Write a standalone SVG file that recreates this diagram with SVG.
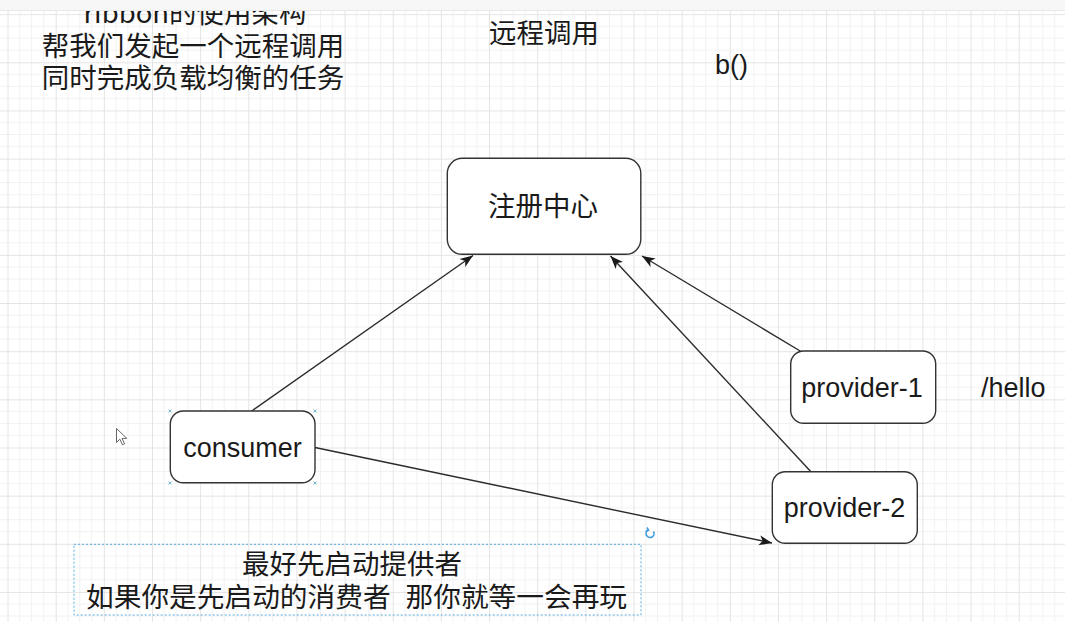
<svg xmlns="http://www.w3.org/2000/svg" width="1065" height="622" viewBox="0 0 1065 622">
  <style>
    .node { fill: #ffffff; stroke: #333333; stroke-width: 1.4; }
    .lbl { font-family: "Liberation Sans", Arial, sans-serif; font-size: 27px; fill: #1a1a1a; }
    .cjk { font-family: "Noto Sans CJK SC", "Microsoft YaHei", sans-serif; font-size: 27.5px; fill: #1a1a1a; }
    .edge { fill: none; stroke: #2b2b2b; stroke-width: 1.4; }
    .minor { stroke: #f1f1f1; stroke-width: 1; }
    .major { stroke: #e4e4e4; stroke-width: 1; }
  </style>
  <defs>
    <pattern id="grid" patternUnits="userSpaceOnUse" x="7.55" y="14.15" width="48.15" height="48.15">
      <line class="minor" x1="12.04" y1="0" x2="12.04" y2="48.15"/>
      <line class="minor" x1="24.08" y1="0" x2="24.08" y2="48.15"/>
      <line class="minor" x1="36.11" y1="0" x2="36.11" y2="48.15"/>
      <line class="minor" x1="0" y1="12.04" x2="48.15" y2="12.04"/>
      <line class="minor" x1="0" y1="24.08" x2="48.15" y2="24.08"/>
      <line class="minor" x1="0" y1="36.11" x2="48.15" y2="36.11"/>
      <line class="major" x1="0.5" y1="0" x2="0.5" y2="48.15"/>
      <line class="major" x1="0" y1="0.5" x2="48.15" y2="0.5"/>
    </pattern>
    <marker id="arrow" markerUnits="userSpaceOnUse" markerWidth="14" markerHeight="12" viewBox="0 0 14 12" refX="13" refY="6" orient="auto">
      <path d="M0,1 L13,6 L0,11 L3.5,6 Z" fill="#1a1a1a"/>
    </marker>
  </defs>

  <rect x="0" y="0" width="1065" height="622" fill="#ffffff"/>
  <rect x="0" y="0" width="1065" height="622" fill="url(#grid)"/>

  <!-- free texts -->
  <g id="notes">
    <text class="cjk" x="195" y="23" text-anchor="middle">ribbon的使用架构</text>
    <text class="cjk" x="193" y="56" text-anchor="middle">帮我们发起一个远程调用</text>
    <text class="cjk" x="193" y="87.5" text-anchor="middle">同时完成负载均衡的任务</text>
    <text class="cjk" x="489" y="43">远程调用</text>
    <text class="lbl" x="715" y="74">b()</text>
    <text class="lbl" x="981" y="397">/hello</text>
  </g>

  <!-- top toolbar band -->
  <rect x="0" y="0" width="1065" height="10" fill="#f7f7f7"/>
  <line x1="0" y1="10.5" x2="1065" y2="10.5" stroke="#e8e8e8" stroke-width="1"/>

  <!-- connectors -->
  <g id="connectors">
    <line class="edge" x1="251.7" y1="411" x2="473" y2="255.5" marker-end="url(#arrow)"/>
    <line class="edge" x1="810.7" y1="471.5" x2="610.5" y2="256" marker-end="url(#arrow)"/>
    <line class="edge" x1="801" y1="351.5" x2="642" y2="256" marker-end="url(#arrow)"/>
    <line class="edge" x1="315" y1="447.5" x2="772" y2="543" marker-end="url(#arrow)"/>
  </g>

  <g id="registry">
    <rect class="node" x="447.3" y="158.3" width="193.5" height="96" rx="15"/>
    <text class="cjk" x="543" y="216" text-anchor="middle">注册中心</text>
  </g>

  <g id="consumer">
    <rect class="node" x="170.3" y="411" width="144.7" height="71.7" rx="13"/>
    <text class="lbl" x="242.5" y="457" text-anchor="middle">consumer</text>
    <g stroke="#7ab8d8" stroke-width="1">
      <path d="M168.5,409.5 l3,3 M171.5,409.5 l-3,3"/>
      <path d="M313.5,409.5 l3,3 M316.5,409.5 l-3,3"/>
      <path d="M168.5,481.5 l3,3 M171.5,481.5 l-3,3"/>
      <path d="M313.5,481.5 l3,3 M316.5,481.5 l-3,3"/>
    </g>
  </g>

  <g id="provider-1">
    <rect class="node" x="790.7" y="351" width="145" height="72.3" rx="13"/>
    <text class="lbl" x="862" y="396.7" text-anchor="middle">provider-1</text>
  </g>

  <g id="provider-2">
    <rect class="node" x="772.3" y="471.7" width="145" height="71.6" rx="13"/>
    <text class="lbl" x="844.5" y="516.7" text-anchor="middle">provider-2</text>
  </g>

  <g id="note">
    <rect x="74" y="544.3" width="567" height="70.7" fill="none" stroke="#5aaee0" stroke-width="1" stroke-dasharray="2,2"/>
    <text class="cjk" x="352" y="574" text-anchor="middle">最好先启动提供者</text>
    <text class="cjk" x="86" y="607" style="font-size:27.7px" xml:space="preserve">如果你是先启动的消费者  <tspan x="405.5">那你就等一会再玩</tspan></text>
  </g>

  <!-- UI artifacts: cursor and rotate handle -->
  <path d="M116.5,428.5 l0,14 l3.4,-3.3 l2.6,5.6 l2.1,-1 l-2.6,-5.4 l4.8,0 z" fill="#ffffff" stroke="#666666" stroke-width="1"/>
  <g fill="none" stroke="#3d9be0" stroke-width="1.6">
    <path d="M653.5,531.5 A4,4 0 1 1 648,530"/>
    <path d="M647,527.5 l1.5,2.7 l-2.8,1.2"/>
  </g>
</svg>
